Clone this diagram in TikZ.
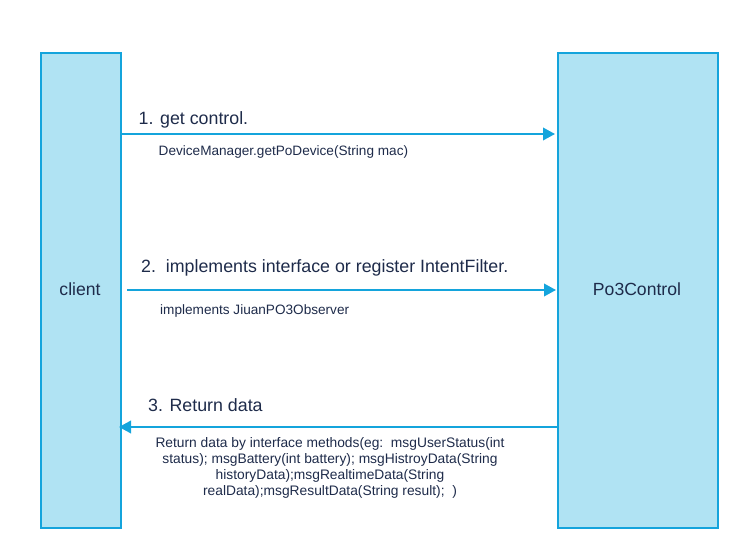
\documentclass[tikz,border=0pt]{standalone}
\usepackage{fontspec}
\setmainfont{Liberation Sans}
\usetikzlibrary{arrows.meta}
\definecolor{boxfill}{HTML}{B0E3F3}
\definecolor{boxline}{HTML}{14A4DC}
\definecolor{txt}{HTML}{1E2B4A}
\tikzset{
  lane/.style={draw=boxline, line width=2.2pt, fill=boxfill, anchor=north west, inner sep=0pt},
  msg/.style={draw=boxline, line width=2pt, -{Triangle[length=12pt,width=12.5pt]}},
  big/.style={text=txt, font=\fontsize{17.8}{21}\selectfont, inner sep=0pt, anchor=base west},
  small/.style={text=txt, font=\fontsize{13.6}{16}\selectfont, inner sep=0pt, anchor=base west},
}
\begin{document}
\begin{tikzpicture}[x=1pt,y=-1pt]
\useasboundingbox (0,0) rectangle (737,548);
\node[lane, minimum width=80pt, minimum height=475pt] (client) at (40,52) {};
\node[text=txt, font=\fontsize{17.6}{21}\selectfont] (clientlbl) at (80,289) {client};
\node[lane, minimum width=160pt, minimum height=475pt] (po3) at (557,52) {};
\node[text=txt, font=\fontsize{17.6}{21}\selectfont] (po3lbl) at (637,289) {Po3Control};
\coordinate (a1s) at (122,134);
\coordinate (a1e) at (555,134);
\draw[msg] (a1s) -- (a1e);
\coordinate (a2s) at (127,290);
\coordinate (a2e) at (556,290);
\draw[msg] (a2s) -- (a2e);
\coordinate (a3s) at (557,427);
\coordinate (a3e) at (119,427);
\draw[msg] (a3s) -- (a3e);
\node[big] (l1) at (138.5,125) {1. get control.};
\node[small] (s1) at (158.5,155.5) {DeviceManager.getPoDevice(String mac)};
\node[big] (l2) at (141,272.5) {2.\ \ implements interface or register IntentFilter.};
\node[small] (s2) at (160,315) {implements JiuanPO3Observer};
\node[big] (l3) at (148,411.5) {3. Return data};
\node[text=txt, font=\fontsize{13.8}{16}\selectfont, align=center, inner sep=0pt, anchor=north] (s3) at (330,437) {Return data by interface methods(eg:\ \ msgUserStatus(int\\status); msgBattery(int battery); msgHistroyData(String\\historyData);msgRealtimeData(String\\realData);msgResultData(String result);\ \ )};
\end{tikzpicture}
\end{document}
